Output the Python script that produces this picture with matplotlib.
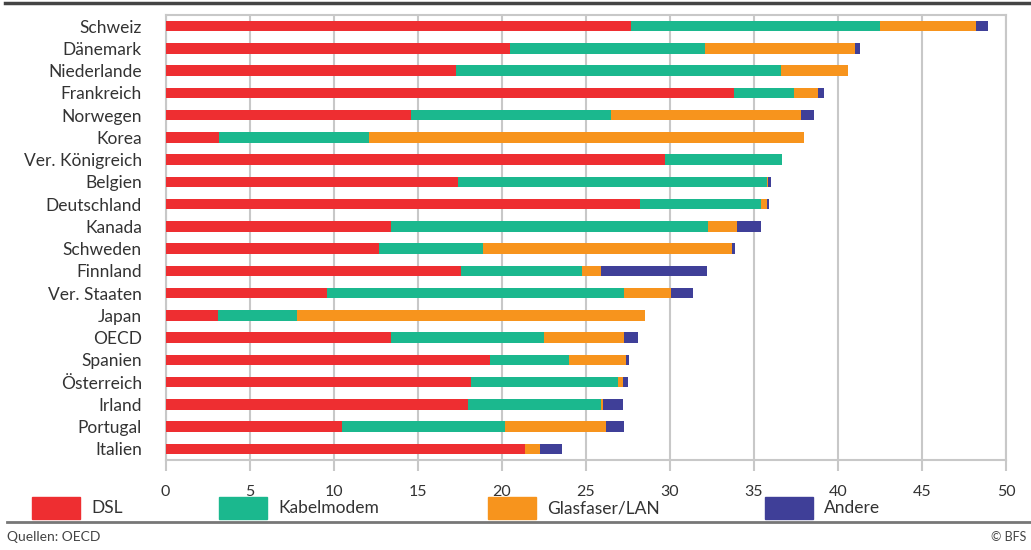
import matplotlib
matplotlib.use("Agg")
import matplotlib.pyplot as plt
from matplotlib.patches import Rectangle
from matplotlib.lines import Line2D
import numpy as np

plt.rcParams["font.family"] = ["Lato", "DejaVu Sans"]

# Breitbandanschlüsse pro 100 Einwohner, nach Technologie
countries = ["Schweiz", "Dänemark", "Niederlande", "Frankreich", "Norwegen",
             "Korea", "Ver. Königreich", "Belgien", "Deutschland", "Kanada",
             "Schweden", "Finnland", "Ver. Staaten", "Japan", "OECD",
             "Spanien", "Österreich", "Irland", "Portugal", "Italien"]
dsl = [27.7, 20.5, 17.3, 33.8, 14.6, 3.2, 29.7, 17.4, 28.2, 13.4,
       12.7, 17.6, 9.6, 3.1, 13.4, 19.3, 18.2, 18.0, 10.5, 21.4]
kabel = [14.8, 11.6, 19.3, 3.6, 11.9, 8.9, 7.0, 18.4, 7.2, 18.9,
         6.2, 7.2, 17.7, 4.7, 9.1, 4.7, 8.7, 7.9, 9.7, 0.0]
glas = [5.7, 8.9, 4.0, 1.4, 11.3, 25.9, 0.0, 0.05, 0.4, 1.7,
        14.8, 1.1, 2.8, 20.7, 4.8, 3.4, 0.3, 0.1, 6.0, 0.9]
andere = [0.7, 0.3, 0.0, 0.4, 0.8, 0.0, 0.0, 0.15, 0.1, 1.4,
          0.2, 6.3, 1.3, 0.0, 0.8, 0.2, 0.3, 1.2, 1.1, 1.3]
series = ["DSL", "Kabelmodem", "Glasfaser/LAN", "Andere"]
colors = ["#EE2E31", "#1BB88E", "#F7941D", "#3F3F98"]
xticks = [0, 5, 10, 15, 20, 25, 30, 35, 40, 45, 50]

W, H = 1031, 550
fig = plt.figure(figsize=(W / 100, H / 100), dpi=100)
ax = fig.add_axes([165.5 / W, (H - 460) / H, (1006 - 165.5) / W, 445 / H])

grid_col = "#c8c8c8"
y = np.arange(len(countries))
left = np.zeros(len(countries))
for vals, col in zip([dsl, kabel, glas, andere], colors):
    vals = np.array(vals)
    ax.barh(y, vals, left=left, height=0.47, color=col, linewidth=0, zorder=3)
    left += vals

ax.set_xlim(0, 50)
ax.set_ylim(len(countries) - 0.5, -0.5)
ax.set_xticks(xticks)
ax.set_xticklabels([str(t) for t in xticks])
ax.set_yticks(y)
ax.set_yticklabels(countries)
ax.xaxis.grid(True, color=grid_col, lw=1.5, zorder=1)
for s in ax.spines.values():
    s.set_color(grid_col)
    s.set_linewidth(1.5)
ax.tick_params(axis="x", length=8, width=1.5, color=grid_col,
               labelsize=11.5, labelcolor="#333333", pad=10)
ax.tick_params(axis="y", length=0, labelsize=12.5, labelcolor="#333333", pad=17)

# legend row
leg_x = [32, 219, 488, 765]
for name, col, x0 in zip(series, colors, leg_x):
    fig.patches.append(Rectangle((x0 / W, (H - 519) / H), 48 / W, 22 / H,
                                 transform=fig.transFigure, color=col))
    fig.text((x0 + 59) / W, (H - 508) / H, name, fontsize=12.5,
             color="#333333", va="center", ha="left")

# rules top and bottom
fig.lines.append(Line2D([5 / W, 1], [(H - 2.5) / H] * 2, transform=fig.transFigure,
                        color="#444444", lw=2.5))
fig.lines.append(Line2D([7 / W, 1], [(H - 522) / H] * 2, transform=fig.transFigure,
                        color="#777777", lw=2))
fig.text(7 / W, (H - 537) / H, "Quellen: OECD", fontsize=10, color="#444444",
         va="center", ha="left")
fig.text(1026 / W, (H - 537) / H, "© BFS", fontsize=9, color="#444444",
         va="center", ha="right")

fig.savefig("out.png", dpi=100)
